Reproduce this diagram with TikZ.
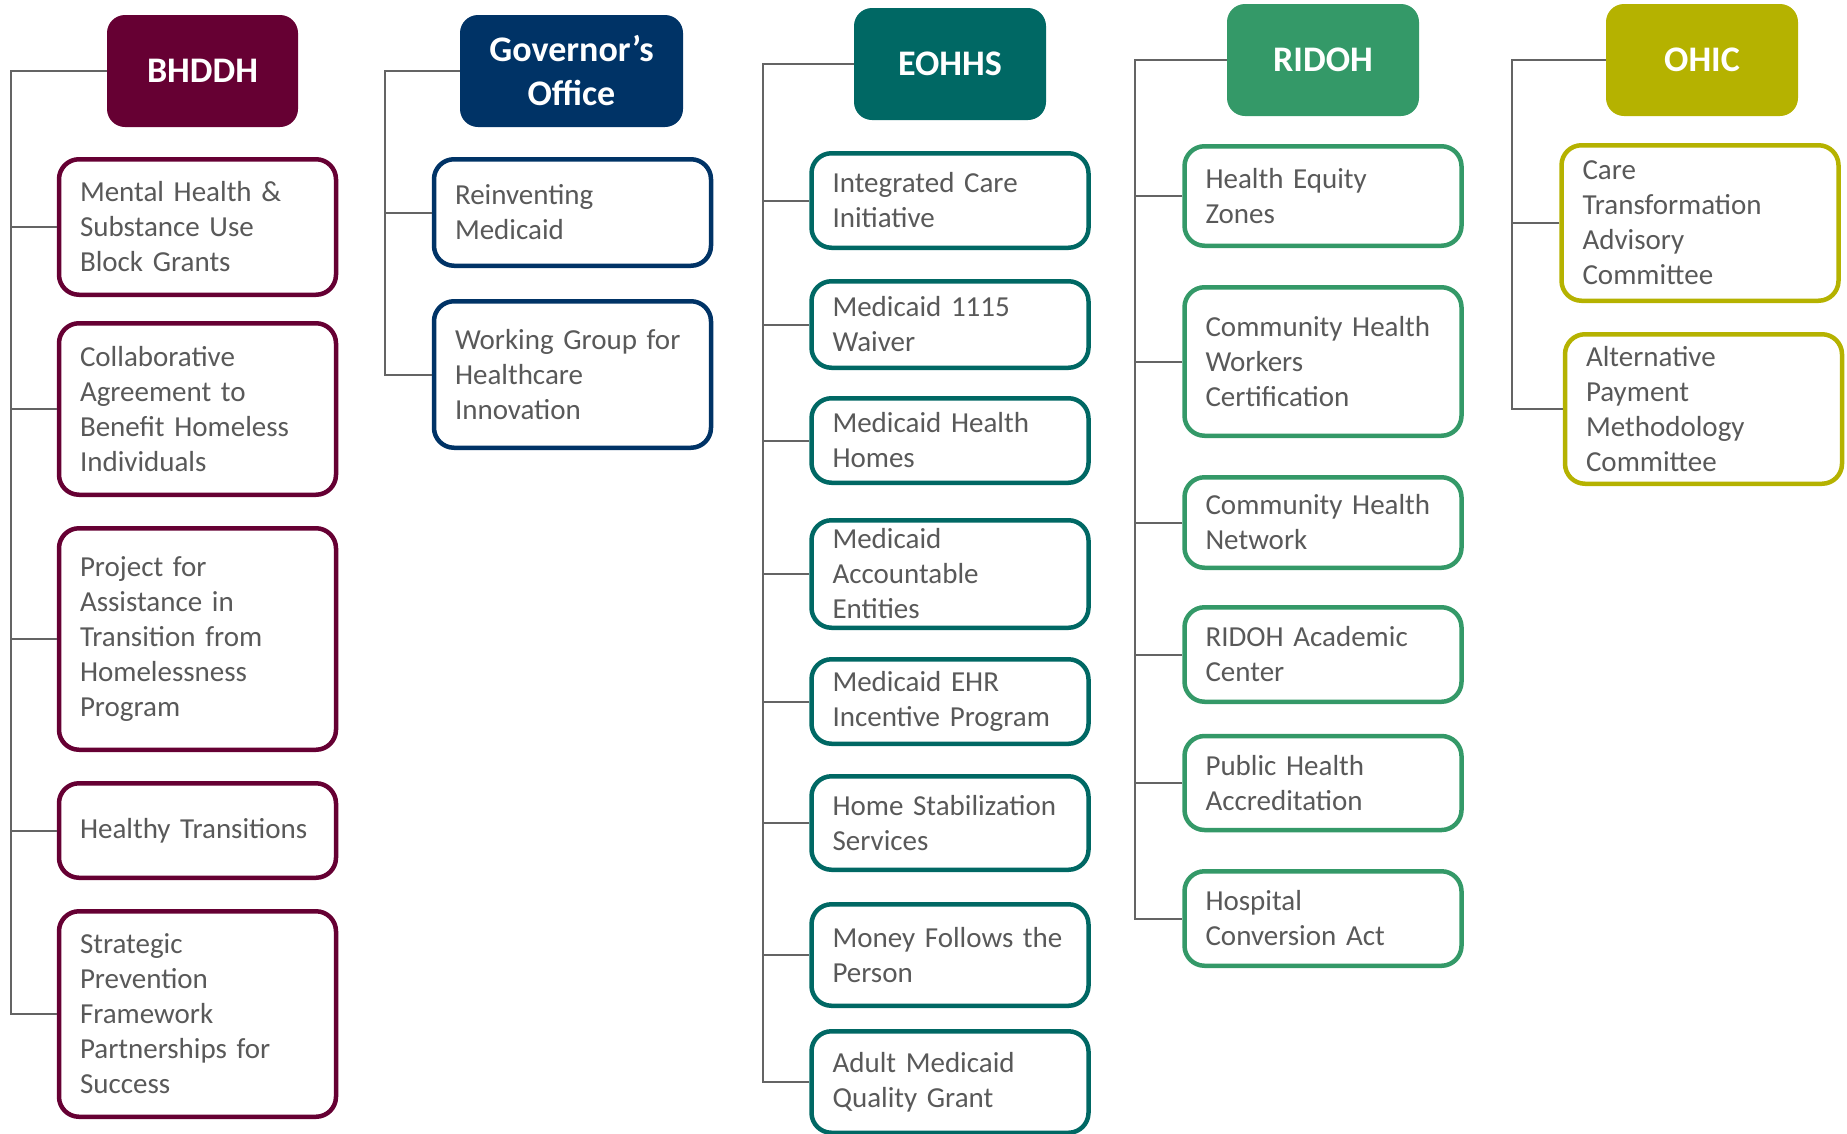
\documentclass[tikz,border=0pt]{standalone}
\usepackage{fontspec}
\setmainfont{Carlito}
\definecolor{bhddhred}{RGB}{102,0,51}
\definecolor{govblue}{RGB}{0,51,102}
\definecolor{eohhsteal}{RGB}{0,104,100}
\definecolor{ridohgreen}{RGB}{52,153,104}
\definecolor{ohicolive}{RGB}{181,178,0}
\definecolor{textgray}{RGB}{89,89,89}
\definecolor{linegray}{RGB}{100,100,100}

\begin{document}
\begin{tikzpicture}[x=1pt, y=-1pt,
		head/.style={rounded corners=18pt, text=white, align=center, minimum height=112pt, inner sep=0pt, font=\fontsize{36}{44}\selectfont\bfseries},
		item/.style={line width=4.5pt, rounded corners=20pt, fill=white, text=textgray, align=left, text width=235pt, inner xsep=21pt, inner ysep=0pt, font=\fontsize{29}{35}\selectfont},
		link/.style={draw=linegray, line width=2pt}]
	\useasboundingbox (0,0) rectangle (1847,1133);

	% headers
	\node[head, fill=bhddhred, minimum width=191pt] (bhddh) at (202.5,71) {BHDDH};
	\node[head, fill=govblue, minimum width=223pt] (gov) at (571.5,71) {Governor’s\\Office};
	\node[head, fill=eohhsteal, minimum width=192pt] (eohhs) at (950,64) {EOHHS};
	\node[head, fill=ridohgreen, minimum width=192pt] (ridoh) at (1323,60) {RIDOH};
	\node[head, fill=ohicolive, minimum width=192pt] (ohic) at (1702,60) {OHIC};

	\begin{scope}[every node/.style={item, draw=bhddhred}]
		\node[minimum height=135.5pt] (mhsu) at (197.5,227) {Mental Health \&\\Substance Use\\Block Grants};
		\node[minimum height=171.5pt] (collab) at (197.5,409) {Collaborative\\Agreement to\\Benefit Homeless\\Individuals};
		\node[minimum height=221.5pt] (path) at (197.5,639) {Project for\\Assistance in\\Transition from\\Homelessness\\Program};
		\node[minimum height=94.5pt] (healthy) at (197.5,830.5) {Healthy Transitions};
		\node[minimum height=205.5pt] (spf) at (197.5,1014) {Strategic\\Prevention\\Framework\\Partnerships for\\Success};
	\end{scope}

	\begin{scope}[every node/.style={item, draw=govblue}]
		\node[minimum height=106.5pt] (reinv) at (572.5,212.5) {Reinventing\\Medicaid};
		\node[minimum height=146.5pt] (wghi) at (572.5,374.5) {Working Group for\\Healthcare\\Innovation};
	\end{scope}

	\begin{scope}[every node/.style={item, draw=eohhsteal}]
		\node[minimum height=94.5pt] (ici) at (950,200.5) {Integrated Care\\Initiative};
		\node[minimum height=86.5pt] (waiver) at (950,324.5) {Medicaid 1115\\Waiver};
		\node[minimum height=84.5pt] (mhh) at (950,440.5) {Medicaid Health\\Homes};
		\node[minimum height=107.5pt] (mae) at (950,574) {Medicaid\\Accountable\\Entities};
		\node[minimum height=84.5pt] (ehr) at (950,701.5) {Medicaid EHR\\Incentive Program};
		\node[minimum height=93.5pt] (hss) at (950,823) {Home Stabilization\\Services};
		\node[minimum height=101.5pt] (mfp) at (950,955) {Money Follows the\\Person};
		\node[minimum height=101.5pt] (amqg) at (950,1082) {Adult Medicaid\\Quality Grant};
	\end{scope}

	\begin{scope}[every node/.style={item, draw=ridohgreen}]
		\node[minimum height=99.5pt] (hez) at (1323,196) {Health Equity\\Zones};
		\node[minimum height=148.5pt] (chwc) at (1323,361.5) {Community Health\\Workers\\Certification};
		\node[minimum height=90.5pt] (chn) at (1323,522.5) {Community Health\\Network};
		\node[minimum height=94.5pt] (rac) at (1323,654.5) {RIDOH Academic\\Center};
		\node[minimum height=94pt] (pha) at (1323,783) {Public Health\\Accreditation};
		\node[minimum height=94.5pt] (hca) at (1323,918.5) {Hospital\\Conversion Act};
	\end{scope}

	\begin{scope}[every node/.style={item, draw=ohicolive}]
		\node[minimum height=155.5pt] (ctac) at (1700,223) {Care\\Transformation\\Advisory\\Committee};
		\node[minimum height=149.5pt] (apmc) at (1703.5,409) {Alternative\\Payment\\Methodology\\Committee};
	\end{scope}

	% connectors
	\draw[link] (bhddh.west) -| ([xshift=-46pt]spf.west) -- (spf.west);
	\foreach \n in {mhsu,collab,path,healthy}
		\draw[link] (\n.west) -- ++(-46,0);

	\draw[link] (gov.west) -| ([xshift=-47pt]wghi.west) -- (wghi.west);
	\draw[link] (reinv.west) -- ++(-47,0);

	\draw[link] (eohhs.west) -| ([xshift=-46pt]amqg.west) -- (amqg.west);
	\foreach \n in {ici,waiver,mhh,mae,ehr,hss,mfp}
		\draw[link] (\n.west) -- ++(-46,0);

	\draw[link] (ridoh.west) -| ([xshift=-47pt]hca.west) -- (hca.west);
	\foreach \n in {hez,chwc,chn,rac,pha}
		\draw[link] (\n.west) -- ++(-47,0);

	\draw[link] (ohic.west) -| ([xshift=-51pt]apmc.west) -- (apmc.west);
	\draw[link] (ctac.west) -- ++(-47,0);
\end{tikzpicture}
\end{document}
